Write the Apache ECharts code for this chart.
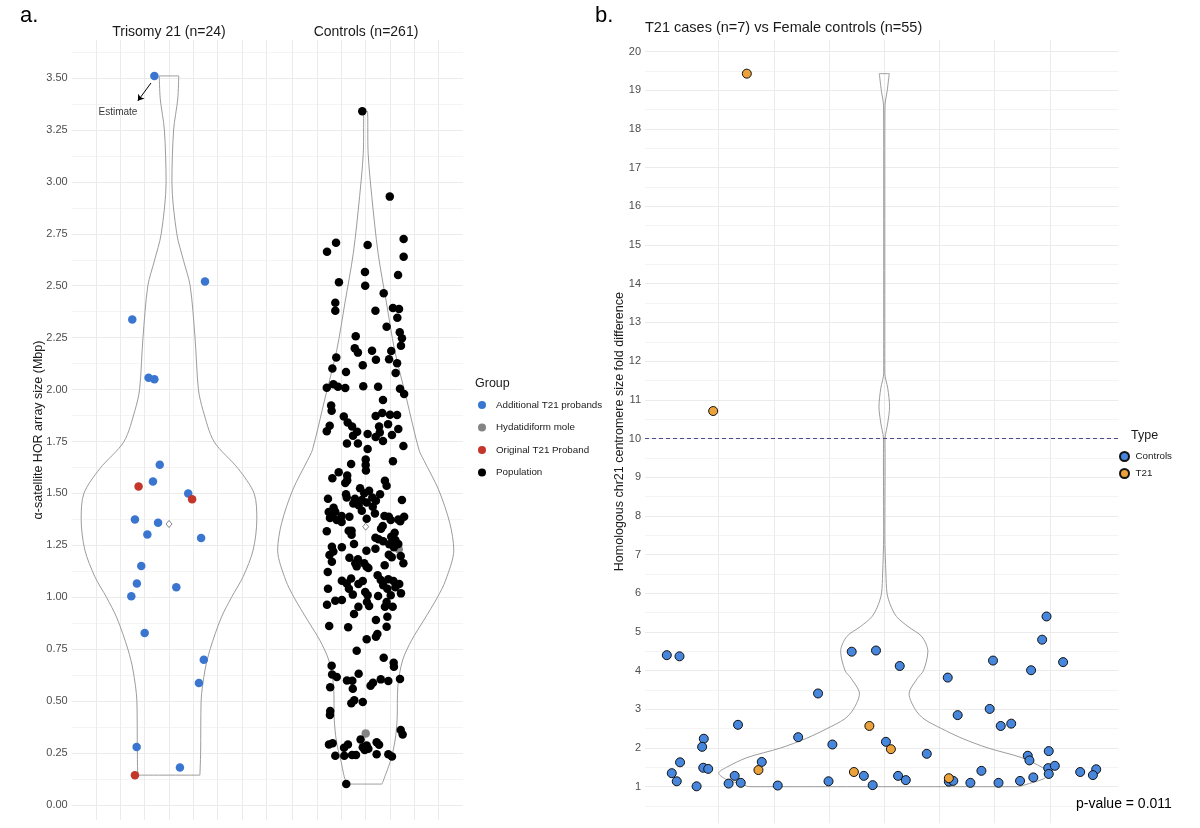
<!DOCTYPE html>
<html>
<head>
<meta charset="utf-8">
<script src="https://cdn.jsdelivr.net/npm/echarts@6/dist/echarts.min.js"></script>
<style>
  html, body { margin: 0; background: #fff; }
  #chart { width: 1200px; height: 828px; }
</style>
</head>
<body>
<div id="chart"></div>
<script>
// ---------- data ----------
const groupNames = ['Additional T21 probands', 'Hydatidiform mole', 'Original T21 Proband', 'Population'];
const typeNames = ['Controls', 'T21'];

// panel a, Trisomy 21 facet (x = jitter offset)
const t21AddX = [-0.6, 1.48, -1.51, -0.84, -0.6, -0.38, -0.66, 0.79, -1.4, -0.45, -0.89, 1.32, -1.14, -1.32, 0.3, -1.55, -1.0, 1.43, 1.23, -1.33, 0.45];
const t21AddY = [3.51, 2.52, 2.337, 2.057, 2.05, 1.638, 1.557, 1.50, 1.375, 1.359, 1.303, 1.286, 1.151, 1.067, 1.048, 1.005, 0.828, 0.70, 0.587, 0.279, 0.181];
const t21OrigX = [-1.25, 0.95, -1.4];
const t21OrigY = [1.534, 1.472, 0.144];

// panel a, Controls facet
const moleX = [1.36, 0];
const moleY = [1.231, 0.345];
const popX = [
  -0.14, 0.99, -1.22, -1.59, 0.08, 1.56, 1.56,
  -0.03, 1.33, -1.10, -0.02, 0.74, -1.25, -1.25, 0.40, 1.12, 1.37, 1.30, 0.86, 1.40, -0.41, 1.49, 1.45, -0.45, -0.32, 0.26, 1.05,
  -1.21, 0.42, 0.96, 1.29, -1.37, -0.12, -0.81, 1.23, -1.60, -1.33, -1.14, -0.84, -0.10, 0.51, 1.41, 1.58, 0.71, -1.42, -1.40, -0.90,
  0.41, 0.68, 1.00, 1.29, -0.74, -1.48, -0.56, 0.55, 0.92, -1.60, -0.35, 1.34, 0.58, -0.52, 0.08, 0.41, 1.08, -0.77, -0.32, 0.71,
  1.55, 0.08,
  0, 1.12, -0.6, 0, 0.01, -1.11, -0.76, -1.37, -0.76, 0.79, -0.84, 0.86, -0.23, 0.14, -0.06, -0.81, 0.59, 0.27, -0.78, -0.44,
  -1.55, -0.16, 1.49, 0.42, 0.04, -0.51, -0.29, 0.29, -1.32, -0.16, -1.52, -1.25, 0.38, -1.37, -0.99, -0.67, 0.77, 0.95, 1.58, -1.47,
  1.34, -1.19, 0.04, 1.03, -0.99, 1.42, 0.70, 0.63, -1.60, -0.70, -0.58, -0.58, 1.19, 1.05, 0.40, 1.22, 0.53, 0.72, -0.48, 0.97,
  1.34, -1.39, -0.98, 1.16, 0.03, 0.40, -1.33, 0.95, -1.49, 1.44, -0.67, -0.32, 1.07, -1.39, -0.43, -0.06, 1.55, -0.37, 0.04, 0.78,
  0.11, -1.56, 0.49, -0.60, -0.98, 0.62, 0.93, 1.14, -0.12, -0.78, -0.30, 0.72, 1.38, -1.55, -0.69, 0.89, 1.22, -0.02, 1.45, -0.53,
  0.51, 0.08, 1.03, -0.98, -1.25, -1.59, 0.05, 0.86, -0.30, 0.14, 0.79, 1.11, -0.48, 0.89, 0.42, -1.50, -0.72, 0.86,
  0.04, 0.48, 0.42, -0.37, 0.74, 1.15, 1.16, -1.40, -0.29, -1.38, -1.19, -0.77, -0.55, 0.62, 0.93, 1.41, 0.30, 0.20, -1.46, -0.53,
  -0.47, -0.59, -0.12, -1.46, -1.47, 1.44, 1.52, -0.21, 0.45, 0.55, -1.51, -1.36, -0.89, -0.73, -0.12, 0.04, 0.11, -0.04, -1.25, -0.88,
  -0.56, -0.40, 0.45, 0.93, 1.08, -0.80
];
const popY = [
  3.34, 2.929, 2.707, 2.664, 2.696, 2.725, 2.64,
  2.566, 2.552, 2.517, 2.50, 2.464, 2.418, 2.38, 2.38, 2.393, 2.388, 2.346, 2.303, 2.276, 2.257, 2.247, 2.211, 2.199, 2.178, 2.187, 2.186,
  2.154, 2.144, 2.146, 2.127, 2.101, 2.117, 2.085, 2.08, 2.009, 2.026, 2.014, 2.008, 2.016, 2.014, 2.004, 1.979, 1.95, 1.923, 1.898, 1.871,
  1.873, 1.887, 1.879, 1.878, 1.842, 1.826, 1.822, 1.822, 1.833, 1.799, 1.797, 1.81, 1.793, 1.778, 1.786, 1.772, 1.781, 1.741, 1.741, 1.753,
  1.728, 1.714,
  1.664, 1.655, 1.642, 1.637, 1.61, 1.602, 1.586, 1.573, 1.563, 1.561, 1.55, 1.537, 1.525, 1.513, 1.501, 1.496, 1.496, 1.481, 1.481, 1.475,
  1.475, 1.468, 1.468, 1.465, 1.456, 1.452, 1.443, 1.436, 1.431, 1.417, 1.411, 1.412, 1.404, 1.398, 1.391, 1.388, 1.391, 1.388, 1.388, 1.382,
  1.375, 1.372, 1.378, 1.372, 1.363, 1.366, 1.343, 1.33, 1.318, 1.321, 1.321, 1.301, 1.311, 1.292, 1.287, 1.276, 1.279, 1.27, 1.257, 1.255,
  1.257, 1.244, 1.241, 1.241, 1.224, 1.234, 1.221, 1.205, 1.204, 1.199, 1.191, 1.183, 1.193, 1.171, 1.164, 1.164, 1.164, 1.149, 1.147, 1.154,
  1.141, 1.122, 1.106, 1.091, 1.08, 1.083, 1.087, 1.078, 1.078, 1.067, 1.064, 1.058, 1.064, 1.041, 1.041, 1.041, 1.048, 1.026, 1.019, 1.013,
  1.006, 1.01, 1.01, 0.987, 0.984, 0.964, 0.977, 0.977, 0.955, 0.958, 0.955, 0.955, 0.92, 0.907, 0.891, 0.862, 0.856, 0.858,
  0.798, 0.823, 0.81, 0.743, 0.709, 0.685, 0.666, 0.671, 0.632, 0.629, 0.616, 0.60, 0.598, 0.605, 0.597, 0.607, 0.589, 0.574, 0.567, 0.56,
  0.504, 0.49, 0.496, 0.453, 0.433, 0.361, 0.34, 0.316, 0.302, 0.29, 0.292, 0.297, 0.276, 0.292, 0.278, 0.287, 0.271, 0.265, 0.237, 0.237,
  0.241, 0.241, 0.244, 0.244, 0.234, 0.101
];
const meanT21 = 1.353;
const meanCtrl = 1.34;

// violin outlines: value and half width
const violinT21Y = [0.144, 0.25, 0.5, 0.65, 0.75, 0.9, 1.0, 1.1, 1.228, 1.375, 1.5, 1.62, 1.75, 1.9, 2.0, 2.25, 2.5, 2.62, 2.75, 3.0, 3.25, 3.4, 3.51];
const violinT21W = [1.27, 1.30, 1.32, 1.48, 1.69, 2.14, 2.57, 3.05, 3.46, 3.61, 3.5, 2.84, 1.85, 1.4, 1.21, 1.07, 0.87, 0.6, 0.32, 0.12, 0.19, 0.36, 0.4];
const violinCtrlY = [0.101, 0.217, 0.313, 0.409, 0.57, 0.698, 0.794, 0.89, 1.0, 1.083, 1.228, 1.356, 1.517, 1.66, 1.71, 1.95, 2.19, 2.42, 2.656, 2.93, 3.137, 3.34];
const violinCtrlW = [0.67, 1.03, 1.21, 1.29, 1.32, 1.52, 1.89, 2.39, 2.95, 3.29, 3.62, 3.46, 3.0, 2.39, 2.19, 1.69, 1.19, 0.85, 0.51, 0.25, 0.1, 0.07];

// panel b
const ctrlBX = [-3.94, -3.71, -3.85, -3.76, -3.70, -3.40, -3.27, -3.30, -3.28, -3.19, -2.65, -2.82, -2.71, -2.60, -2.22, -1.93, -1.56, -1.20, -0.94, -1.01,
  -0.59, -0.15, -0.37, -0.21, 0.03, 0.28, 0.25, 0.39, 1.15, 1.33, 0.77, 1.17, 1.25, 1.56, 1.76, 1.97, 1.91, 2.11, 2.30, 2.07,
  2.46, 2.70, 2.66, 2.86, 2.94, 3.24, 2.60, 2.63, 2.98, 2.97, 3.09, 2.98, 3.55, 3.84, 3.78];
const ctrlBY = [4.40, 4.37, 1.35, 1.14, 1.63, 1.01, 2.24, 2.03, 1.49, 1.46, 2.60, 1.08, 1.28, 1.10, 1.64, 1.03, 2.28, 3.41, 2.09, 1.14,
  4.49, 4.52, 1.28, 1.04, 2.16, 4.12, 1.28, 1.17, 3.82, 2.85, 1.85, 1.13, 1.15, 1.10, 1.41, 4.26, 3.01, 2.57, 2.63, 1.10,
  1.15, 1.24, 4.01, 4.80, 5.40, 4.22, 1.80, 1.68, 1.92, 1.48, 1.54, 1.33, 1.38, 1.45, 1.30];
const caseBX = [-2.49, -3.10, -2.28, -0.27, -0.55, 0.12, 1.17];
const caseBY = [19.43, 10.71, 1.43, 2.57, 1.38, 1.97, 1.22];
const violinBY = [1.0, 1.05, 1.2, 1.35, 1.5, 1.75, 2.0, 2.25, 2.5, 2.75, 3.0, 3.4, 3.8, 4.0, 4.5, 4.88, 5.14, 5.4, 5.7, 6.0, 6.5, 7.5,
  9.5, 10.0, 10.2, 10.4, 10.82, 11.3, 11.69, 12.5, 17.5, 18.6, 19.0, 19.43];
const violinBW = [2.45, 2.55, 2.88, 3.0, 2.86, 2.49, 1.88, 1.41, 1.04, 0.72, 0.56, 0.45, 0.6, 0.71, 0.79, 0.68, 0.43, 0.22, 0.11, 0.05, 0.03, 0.011,
  0.015, 0.013, 0.036, 0.063, 0.096, 0.063, 0.01, 0.01, 0.01, 0.013, 0.054, 0.09];
const threshold = 10;

// ticks
const yTicksA = [0, 0.25, 0.5, 0.75, 1, 1.25, 1.5, 1.75, 2, 2.25, 2.5, 2.75, 3, 3.25, 3.5];
const yMinorA = [0.125, 0.375, 0.625, 0.875, 1.125, 1.375, 1.625, 1.875, 2.125, 2.375, 2.625, 2.875, 3.125, 3.375, 3.625];
const yTicksB = [1, 2, 3, 4, 5, 6, 7, 8, 9, 10, 11, 12, 13, 14, 15, 16, 17, 18, 19, 20];
const yMinorB = [0.5, 1.5, 2.5, 3.5, 4.5, 5.5, 6.5, 7.5, 8.5, 9.5, 10.5, 11.5, 12.5, 13.5, 14.5, 15.5, 16.5, 17.5, 18.5, 19.5];
const xTicksB = [-4, -3, -2, -1, 0, 1, 2, 3, 4];

// "Estimate" arrow on the top T21 point
const estimateArrow = [[-0.74, 3.476], [-1.28, 3.39]];
const estimateText = [-2.1, 3.337];

// ---------- chart ----------
const FONT = 'Liberation Sans, Arial, Helvetica, sans-serif';
const GRID_MAJOR = '#ebebeb';
const GRID_MINOR = '#f4f4f4';
const BLUE = '#3a76d0';
const RED = '#c4352c';

const zip = (xs, ys) => xs.map((x, i) => [x, ys[i]]);
const outline = (ys, ws) => {
  const right = ys.map((y, i) => [ws[i], y]);
  const left = ys.map((y, i) => [-ws[i], y]).reverse();
  return right.concat(left, [right[0]]);
};

const hiddenX = (gridIndex, extra) => Object.assign({
  gridIndex, type: 'value',
  axisLine: { show: false }, axisTick: { show: false }, axisLabel: { show: false },
  splitLine: { show: true, showMinLine: false, showMaxLine: false, lineStyle: { color: GRID_MAJOR, width: 1 } }
}, extra);

const yMain = (gridIndex, min, max, ticks, showLabels, fmt, name, nameGap) => ({
  gridIndex, type: 'value', min, max,
  axisLine: { show: false },
  axisTick: { show: false, customValues: ticks },
  axisLabel: { show: showLabels, customValues: ticks, formatter: fmt, color: '#4d4d4d', fontSize: 11, margin: 4 },
  splitLine: { show: true, lineStyle: { color: GRID_MAJOR, width: 1 } },
  name, nameLocation: 'middle', nameGap, nameMoveOverlap: false,
  nameTextStyle: { color: '#1a1a1a', fontSize: 12.5 }
});

const yMinor = (gridIndex, min, max, ticks) => ({
  gridIndex, type: 'value', min, max, position: 'left',
  axisLine: { show: false },
  axisTick: { show: false, customValues: ticks },
  axisLabel: { show: false, customValues: ticks },
  splitLine: { show: true, lineStyle: { color: GRID_MINOR, width: 1 } }
});

const violinSeries = (xi, yi, data, extra) => Object.assign({
  type: 'line', xAxisIndex: xi, yAxisIndex: yi, data,
  smooth: 0.3, symbol: 'none', silent: true, z: 1,
  lineStyle: { color: '#9c9c9c', width: 1 }
}, extra);

const dots = (name, xi, yi, data, color, size) => ({
  name, type: 'scatter', xAxisIndex: xi, yAxisIndex: yi, data,
  symbolSize: size, z: 3,
  itemStyle: { color, opacity: 1 }
});

const chart = echarts.init(document.getElementById('chart'));

const option = {
  backgroundColor: '#fff',
  animation: false,
  textStyle: { fontFamily: FONT },
  title: [
    { text: 'a.', left: 20, top: 5, padding: 0, textStyle: { fontSize: 22, fontWeight: 'normal', color: '#000' } },
    { text: 'b.', left: 595, top: 5, padding: 0, textStyle: { fontSize: 22, fontWeight: 'normal', color: '#000' } },
    { text: 'Trisomy 21 (n=24)', left: 169, top: 25, padding: 0, textAlign: 'center', textStyle: { fontSize: 14, fontWeight: 'normal', color: '#1a1a1a' } },
    { text: 'Controls (n=261)', left: 366, top: 25, padding: 0, textAlign: 'center', textStyle: { fontSize: 14, fontWeight: 'normal', color: '#1a1a1a' } },
    { text: 'T21 cases (n=7) vs Female controls (n=55)', left: 645, top: 20, padding: 0, textStyle: { fontSize: 14.5, fontWeight: 'normal', color: '#1a1a1a' } },
    { text: 'Group', left: 475, top: 377, padding: 0, textStyle: { fontSize: 12.5, fontWeight: 'normal', color: '#1a1a1a' } },
    { text: 'Type', left: 1131, top: 429, padding: 0, textStyle: { fontSize: 12.5, fontWeight: 'normal', color: '#1a1a1a' } },
    { text: 'p-value = 0.011', left: 1076, top: 797, padding: 0, textStyle: { fontSize: 14, fontWeight: 'normal', color: '#000' } }
  ],
  legend: [
    {
      data: groupNames, orient: 'vertical', left: 478, top: 400,
      icon: 'circle', itemWidth: 18, itemHeight: 8, itemGap: 12.5, padding: 0,
      selectedMode: false,
      textStyle: { fontSize: 9.8, color: '#1a1a1a' }
    },
    {
      data: typeNames, orient: 'vertical', left: 1119, top: 451,
      icon: 'circle', itemWidth: 12, itemHeight: 9, itemGap: 6, padding: 0,
      selectedMode: false,
      textStyle: { fontSize: 9.8, color: '#1a1a1a' }
    }
  ],
  grid: [
    { left: 71.7, top: 40, width: 194.6, height: 780 },
    { left: 268.4, top: 40, width: 194.6, height: 780 },
    { left: 645, top: 40, width: 473.3, height: 783.3 }
  ],
  xAxis: [
    hiddenX(0, { min: -4, max: 4, interval: 1, splitLine: { show: true, showMinLine: false, showMaxLine: true, lineStyle: { color: GRID_MAJOR, width: 1 } } }),
    hiddenX(1, { min: -4, max: 4, interval: 1 }),
    hiddenX(2, { min: -4.335, max: 4.24, axisTick: { show: false, customValues: xTicksB }, axisLabel: { show: false, customValues: xTicksB } })
  ],
  yAxis: [
    yMain(0, -0.072, 3.683, yTicksA, true, v => v.toFixed(2), 'α-satellite HOR array size (Mbp)', 27),
    yMinor(0, -0.072, 3.683, yMinorA),
    yMain(1, -0.072, 3.683, yTicksA, false, null, '', 0),
    yMinor(1, -0.072, 3.683, yMinorA),
    yMain(2, 0.054, 20.3, yTicksB, true, v => String(v), 'Homologous chr21 centromere size fold difference', 19),
    yMinor(2, 0.054, 20.3, yMinorB)
  ],
  series: [
    violinSeries(0, 0, outline(violinT21Y, violinT21W)),
    violinSeries(1, 2, outline(violinCtrlY, violinCtrlW)),
    violinSeries(2, 4, outline(violinBY, violinBW), {
      markLine: {
        silent: true, symbol: 'none', label: { show: false },
        lineStyle: { color: '#4b4b8c', width: 1, type: [4, 3] },
        data: [{ yAxis: threshold }]
      }
    }),
    {
      type: 'scatter', xAxisIndex: 0, yAxisIndex: 0, silent: true, z: 2,
      data: [[0, meanT21]], symbol: 'diamond', symbolSize: [6, 7],
      itemStyle: { color: '#fff', borderColor: '#444', borderWidth: 0.8 }
    },
    {
      type: 'scatter', xAxisIndex: 1, yAxisIndex: 2, silent: true, z: 2,
      data: [[0, meanCtrl]], symbol: 'diamond', symbolSize: [6, 7],
      itemStyle: { color: '#fff', borderColor: '#444', borderWidth: 0.8 }
    },
    dots(groupNames[0], 0, 0, zip(t21AddX, t21AddY), BLUE, 8.5),
    dots(groupNames[1], 1, 2, zip(moleX, moleY), '#848484', 8.5),
    dots(groupNames[2], 0, 0, zip(t21OrigX, t21OrigY), RED, 8.5),
    dots(groupNames[3], 1, 2, zip(popX, popY), '#000', 8.5),
    {
      type: 'scatter', xAxisIndex: 0, yAxisIndex: 0, silent: true, z: 4,
      data: [estimateText], symbolSize: 0,
      label: { show: true, position: 'inside', formatter: 'Estimate', color: '#000', fontSize: 10 },
      markLine: {
        silent: true, symbol: ['none', 'arrow'], symbolSize: 6,
        lineStyle: { color: '#000', width: 1, type: 'solid' }, label: { show: false },
        data: [[{ coord: estimateArrow[0] }, { coord: estimateArrow[1] }]]
      }
    },
    {
      name: typeNames[0], type: 'scatter', xAxisIndex: 2, yAxisIndex: 4, z: 3,
      data: zip(ctrlBX, ctrlBY), symbolSize: 9,
      itemStyle: { color: '#4686dc', borderColor: '#111', borderWidth: 1, opacity: 1 }
    },
    {
      name: typeNames[1], type: 'scatter', xAxisIndex: 2, yAxisIndex: 4, z: 3,
      data: zip(caseBX, caseBY), symbolSize: 9,
      itemStyle: { color: '#eba23a', borderColor: '#111', borderWidth: 1, opacity: 1 }
    }
  ]
};

chart.setOption(option);
</script>
</body>
</html>
